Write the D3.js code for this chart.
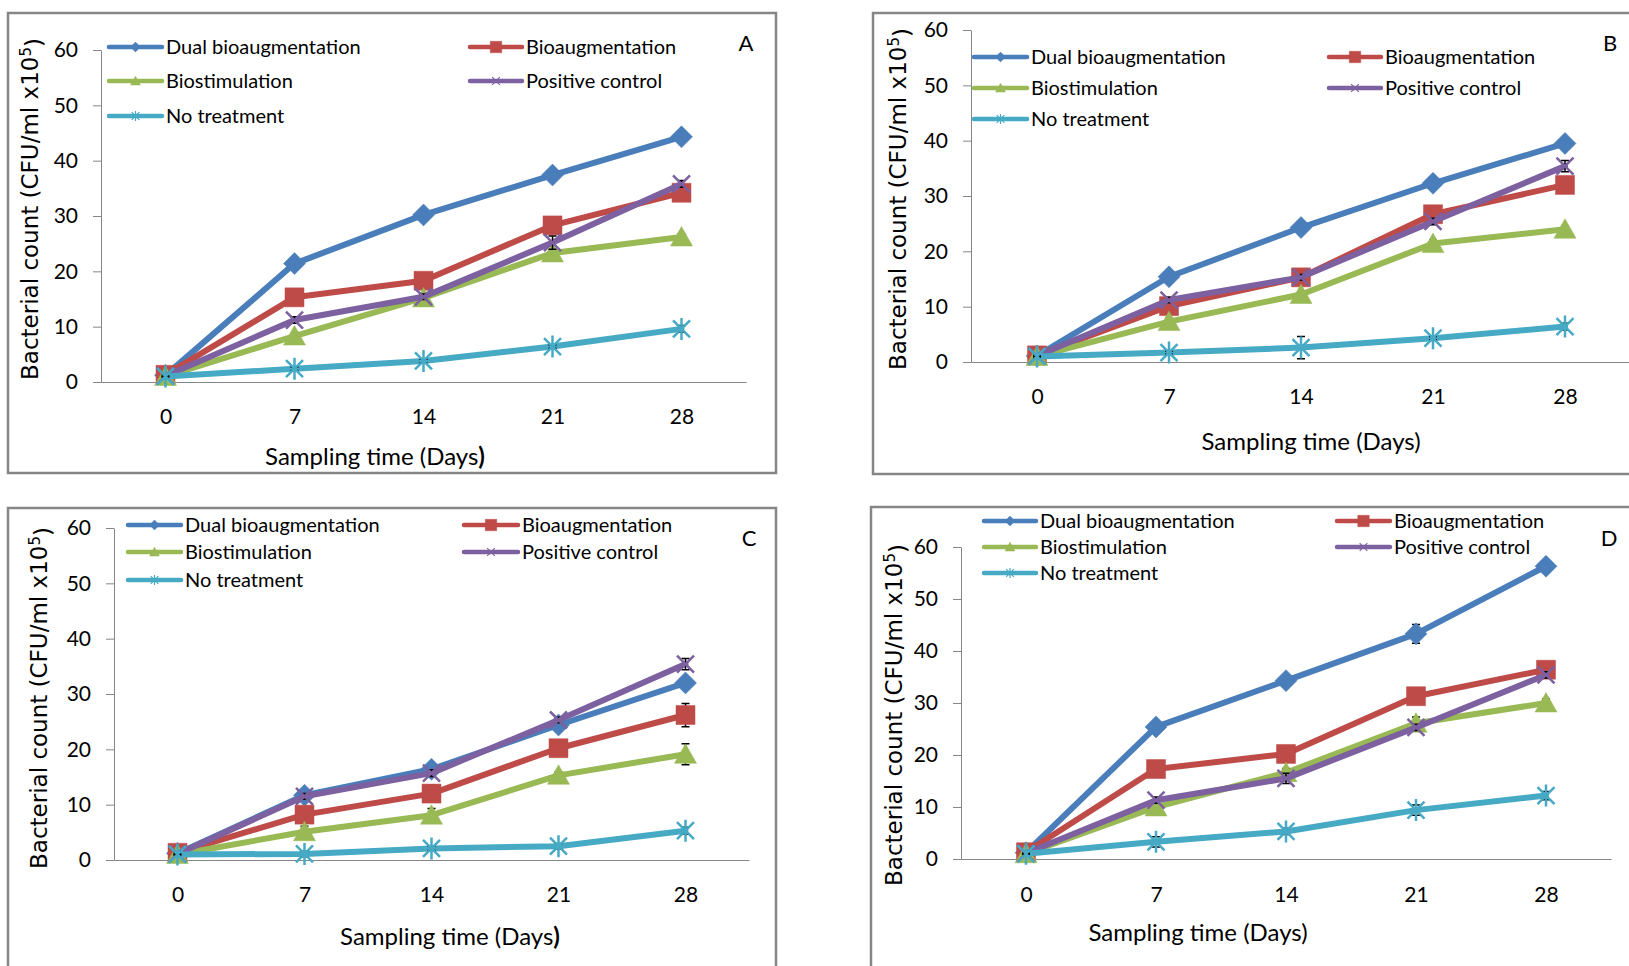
<!DOCTYPE html>
<html>
<head>
<meta charset="utf-8">
<script src="https://cdn.jsdelivr.net/npm/d3@7"></script>
<style>
  body { margin: 0; background: #fff; }
  svg { display: block; }
</style>
</head>
<body>
<svg id="chart" width="1629" height="966"></svg>
<script>
// categories and labels
const days = [0, 7, 14, 21, 28];
const seriesNames = ['Dual bioaugmentation', 'Bioaugmentation', 'Biostimulation', 'Positive control', 'No treatment'];
const yTicks = [0, 10, 20, 30, 40, 50, 60];
const panelLabels = ['A', 'B', 'C', 'D'];

// panel A
const dualA = [1.2, 21.4, 30.2, 37.4, 44.3];
const bioA = [1.3, 15.3, 18.3, 28.3, 34.2];
const stimA = [1.0, 8.3, 15.2, 23.3, 26.2];
const posA = [1.1, 11.2, 15.4, 25.2, 35.8];
const noneA = [1.0, 2.4, 3.8, 6.4, 9.6];
const errorsA = [[0.2, 0.4, 0.3, 0.4, 0.4], [0.2, 0.5, 0.6, 0.5, 0.5], [0.2, 0.5, 0.5, 0.5, 0.6], [0.2, 0.6, 0.5, 1.2, 0.6], [0.1, 0.3, 0.3, 0.3, 0.6]];

// panel B
const dualB = [1.1, 15.4, 24.3, 32.3, 39.5];
const bioB = [1.2, 10.1, 15.3, 26.7, 32.0];
const stimB = [1.0, 7.3, 12.2, 21.4, 24.0];
const posB = [1.1, 11.2, 15.3, 25.4, 35.4];
const noneB = [1.0, 1.7, 2.6, 4.3, 6.4];
const errorsB = [[0.2, 0.4, 0.6, 0.4, 0.4], [0.2, 0.5, 0.5, 0.6, 0.6], [0.2, 0.6, 0.5, 0.6, 0.5], [0.2, 0.5, 0.5, 0.6, 1.0], [0.1, 0.3, 2.0, 0.3, 0.6]];

// panel C
const dualC = [1.2, 11.7, 16.4, 24.4, 32.0];
const bioC = [1.3, 8.2, 12.0, 20.2, 26.2];
const stimC = [1.0, 5.1, 8.1, 15.3, 19.1];
const posC = [1.1, 11.5, 15.7, 25.3, 35.4];
const noneC = [1.0, 1.1, 2.1, 2.5, 5.3];
const errorsC = [[0.2, 0.5, 0.5, 0.5, 0.5], [0.2, 0.8, 1.5, 0.6, 2.1], [0.2, 1.0, 1.2, 0.6, 1.9], [0.2, 0.5, 0.6, 0.5, 1.0], [0.1, 0.5, 0.4, 0.5, 0.6]];

// panel D
const dualD = [1.2, 25.4, 34.3, 43.3, 56.3];
const bioD = [1.3, 17.3, 20.2, 31.3, 36.4];
const stimD = [1.0, 10.0, 16.6, 26.1, 30.0];
const posD = [1.1, 11.3, 15.5, 25.3, 35.4];
const noneD = [1.0, 3.3, 5.3, 9.4, 12.2];
const errorsD = [[0.2, 0.8, 0.5, 1.8, 0.6], [0.2, 0.5, 0.5, 0.6, 0.6], [0.2, 0.5, 0.8, 1.2, 0.8], [0.2, 0.6, 1.0, 0.6, 0.6], [0.1, 1.0, 0.6, 1.0, 0.8]];

const panelValues = [
    [dualA, bioA, stimA, posA, noneA],
    [dualB, bioB, stimB, posB, noneB],
    [dualC, bioC, stimC, posC, noneC],
    [dualD, bioD, stimD, posD, noneD]
];
const panelErrors = [errorsA, errorsB, errorsC, errorsD];

const colors = ['#4A7EBB', '#BE4B48', '#98B954', '#7D60A0', '#46AAC5'];
const markers = ['diamond', 'square', 'triangle', 'x', 'star'];

// where each panel sits on the page
const layouts = [
    { frame: [8, 13, 768, 460], x0: 101, y0: 382, y60: 50, step: 129, rows: [47, 81, 116], cols: [[109, 162], [470, 522]], label: [746, 43], tickY: 417, xTitle: [375, 457], yTitle: [30, 209], bold: true },
    { frame: [873, 13, 800, 461], x0: 971, y0: 362, y60: 30, step: 132, rows: [57, 88, 119], cols: [[974, 1027], [1329, 1381]], label: [1610, 43], tickY: 397, xTitle: [1311, 442], yTitle: [898, 199], bold: false },
    { frame: [8, 508, 768, 500], x0: 114, y0: 860, y60: 528, step: 127, rows: [525, 552, 580], cols: [[128, 181], [464, 518]], label: [749, 538], tickY: 895, xTitle: [450, 937], yTitle: [39, 698], bold: true },
    { frame: [871, 507, 800, 500], x0: 961, y0: 859, y60: 547, step: 130, rows: [521, 547, 573], cols: [[984, 1036], [1337, 1390]], label: [1609, 538], tickY: 895, xTitle: [1198, 933], yTitle: [894, 715], bold: false }
];

const FONT = 'Lato, "Open Sans", sans-serif';

function markerPath(type, s) {
    const r = s / 2;
    if (type === 'diamond') return `M0,${-r * 1.1}L${r * 1.1},0L0,${r * 1.1}L${-r * 1.1},0Z`;
    if (type === 'square') return `M${-r * 0.95},${-r * 0.95}H${r * 0.95}V${r * 0.95}H${-r * 0.95}Z`;
    if (type === 'triangle') return `M0,${-r * 1.05}L${r * 1.1},${r * 0.9}L${-r * 1.1},${r * 0.9}Z`;
    const a = r * 0.85;
    if (type === 'x') return `M${-a},${-a}L${a},${a}M${-a},${a}L${a},${-a}`;
    return `M${-a},${-a}L${a},${a}M${-a},${a}L${a},${-a}M0,${-r * 1.1}L0,${r * 1.1}`;
}

function drawMarker(g, type, color, cx, cy, s, sw) {
    const filled = type === 'diamond' || type === 'square' || type === 'triangle';
    g.append('path')
        .attr('d', markerPath(type, s))
        .attr('transform', `translate(${cx},${cy})`)
        .attr('fill', filled ? color : 'none')
        .attr('stroke', color)
        .attr('stroke-width', filled ? 0.5 : sw);
}

const svg = d3.select('#chart');

layouts.forEach((L, p) => {
    const g = svg.append('g');

    // chart frame
    g.append('rect')
        .attr('x', L.frame[0]).attr('y', L.frame[1])
        .attr('width', L.frame[2]).attr('height', L.frame[3])
        .attr('fill', '#fff')
        .attr('stroke', '#868686')
        .attr('stroke-width', 2.5);

    const x = d3.scalePoint().domain(days).range([L.x0, L.x0 + 5 * L.step]).padding(0.5);
    const y = d3.scaleLinear().domain([0, 60]).range([L.y0, L.y60]);

    // y axis
    const yAx = g.append('g')
        .attr('transform', `translate(${L.x0},0)`)
        .call(d3.axisLeft(y).tickValues(yTicks).tickSize(8).tickSizeOuter(0).tickPadding(15));
    yAx.select('.domain').attr('stroke', '#868686');
    yAx.selectAll('.tick line').attr('stroke', '#868686');
    yAx.selectAll('.tick text')
        .attr('fill', '#000')
        .style('font-family', FONT)
        .style('font-size', '21px');

    // x axis
    const xAx = g.append('g')
        .attr('transform', `translate(0,${L.y0})`)
        .call(d3.axisBottom(x).tickSize(0).tickSizeOuter(0));
    xAx.select('.domain').attr('stroke', '#868686');
    xAx.selectAll('.tick text')
        .attr('y', L.tickY - L.y0)
        .attr('dy', '0.35em')
        .attr('fill', '#000')
        .style('font-family', FONT)
        .style('font-size', '21px');

    // axis titles
    const xt = g.append('text')
        .attr('x', L.xTitle[0]).attr('y', L.xTitle[1])
        .attr('text-anchor', 'middle')
        .attr('dy', '0.35em')
        .attr('fill', '#000')
        .style('font-family', FONT)
        .style('font-size', '24px');
    xt.append('tspan').text('Sampling time (Days');
    xt.append('tspan').attr('font-weight', L.bold ? 'bold' : 'normal').text(')');

    const yt = g.append('text')
        .attr('transform', `translate(${L.yTitle[0]},${L.yTitle[1]}) rotate(-90)`)
        .attr('text-anchor', 'middle')
        .attr('dy', '0.35em')
        .attr('fill', '#000')
        .style('font-family', '"DejaVu Sans", Verdana, sans-serif')
        .style('font-size', '23px');
    yt.append('tspan').text('Bacterial count (CFU/ml x10');
    yt.append('tspan').attr('dy', '-0.45em').style('font-size', '15px').text('5');
    yt.append('tspan').attr('dy', '0.45em').text(')');

    // series
    const values = panelValues[p];
    const errors = panelErrors[p];
    const line = d3.line().x((d, i) => x(days[i])).y(d => y(d));

    values.forEach((vals, s) => {
        const sg = g.append('g');
        sg.append('path')
            .attr('d', line(vals))
            .attr('fill', 'none')
            .attr('stroke', colors[s])
            .attr('stroke-width', 6)
            .attr('stroke-linejoin', 'round')
            .attr('stroke-linecap', 'round');

        // error bars sit under the markers
        vals.forEach((v, i) => {
            const e = errors[s][i];
            const cx = x(days[i]);
            const top = y(v + e), bot = y(v - e);
            sg.append('path')
                .attr('d', `M${cx},${top}V${bot}M${cx - 4},${top}H${cx + 4}M${cx - 4},${bot}H${cx + 4}`)
                .attr('fill', 'none')
                .attr('stroke', '#000')
                .attr('stroke-width', 1.5);
        });

        vals.forEach((v, i) => {
            drawMarker(sg, markers[s], colors[s], x(days[i]), y(v), 20, 2.5);
        });
    });

    // legend
    seriesNames.forEach((name, s) => {
        const col = L.cols[s % 2];
        const ry = L.rows[Math.floor(s / 2)];
        g.append('line')
            .attr('x1', col[0]).attr('x2', col[1])
            .attr('y1', ry).attr('y2', ry)
            .attr('stroke', colors[s])
            .attr('stroke-width', 4.5)
            .attr('stroke-linecap', 'round');
        drawMarker(g, markers[s], colors[s], (col[0] + col[1]) / 2, ry, markers[s] === 'square' ? 12 : 9, 1.2);
        g.append('text')
            .attr('x', col[1] + 4).attr('y', ry)
            .attr('dy', '0.35em')
            .attr('fill', '#000')
            .style('font-family', FONT)
            .style('font-size', '20px')
            .text(name);
    });

    // panel letter
    g.append('text')
        .attr('x', L.label[0]).attr('y', L.label[1])
        .attr('text-anchor', 'middle')
        .attr('dy', '0.35em')
        .attr('fill', '#000')
        .style('font-family', FONT)
        .style('font-size', '22px')
        .text(panelLabels[p]);
});
</script>
</body>
</html>
